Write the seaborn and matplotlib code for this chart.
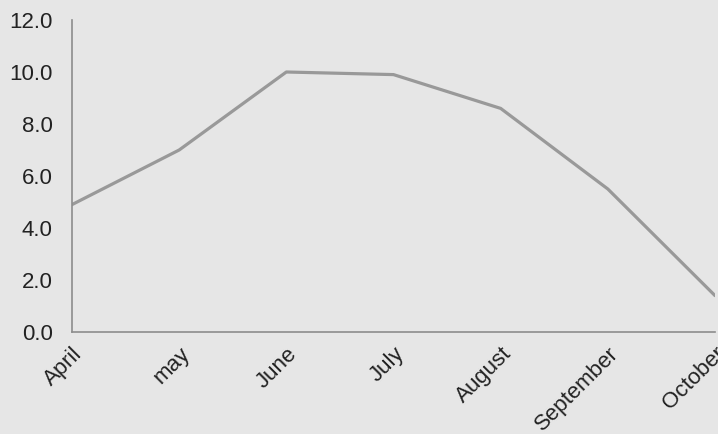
import matplotlib
matplotlib.use("Agg")
import matplotlib.pyplot as plt
import seaborn as sns
import pandas as pd
from matplotlib.ticker import FormatStrFormatter

months = ["April", "may", "June", "July", "August", "September", "October"]
values = [4.9, 7.0, 10.0, 9.9, 8.6, 5.5, 1.4]
y_ticks = [0, 2, 4, 6, 8, 10, 12]

sns.set_style("white")
plt.rcParams["font.family"] = ["Liberation Sans", "DejaVu Sans"]

bg = "#e6e6e6"
fig = plt.figure(figsize=(7.18, 4.34), dpi=100, facecolor=bg)
ax = fig.add_axes([72 / 718, (434 - 332) / 434, (715 - 72) / 718, (332 - 20) / 434])
ax.set_facecolor(bg)

df = pd.DataFrame({"month": months, "value": values})
df["pos"] = range(len(months))
sns.lineplot(data=df, x="pos", y="value", ax=ax, color="#999999", linewidth=2.3)

ax.set_xlim(0, len(months) - 1)
ax.set_ylim(0, 12)
ax.set_xticks(range(len(months)))
ax.set_xticklabels(months, rotation=45, ha="right", va="top", rotation_mode="anchor")
ax.set_yticks(y_ticks)
ax.yaxis.set_major_formatter(FormatStrFormatter("%.1f"))
ax.set_xlabel("")
ax.set_ylabel("")

for side in ["top", "right"]:
    ax.spines[side].set_visible(False)
for side in ["left", "bottom"]:
    ax.spines[side].set_color("#8c8c8c")
    ax.spines[side].set_linewidth(1.2)

ax.tick_params(axis="both", which="major", length=4, width=1.0, color="#8c8c8c",
               labelsize=16, labelcolor="#222222", direction="out")
ax.tick_params(axis="x", pad=4)
ax.tick_params(axis="y", pad=10)

fig.savefig("out.png", dpi=100, facecolor=bg)
